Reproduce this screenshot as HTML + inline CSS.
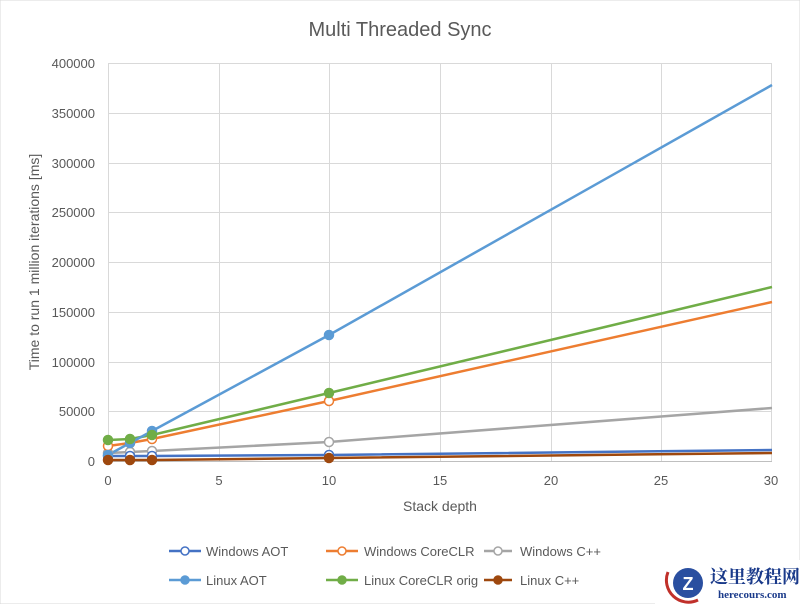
<!DOCTYPE html>
<html><head><meta charset="utf-8"><style>body{margin:0;background:#fff}svg{display:block}text{font-family:"Liberation Sans",sans-serif;fill:#595959}</style></head><body>
<svg width="800" height="604" viewBox="0 0 800 604">
<rect x="0" y="0" width="800" height="604" fill="#fff" stroke="#d9d9d9"/>
<text x="400" y="36" font-size="20" text-anchor="middle">Multi Threaded Sync</text>
<g stroke="#d9d9d9" stroke-width="1">
<line x1="108" y1="63.5" x2="772" y2="63.5"/><line x1="108" y1="113.5" x2="772" y2="113.5"/><line x1="108" y1="163.5" x2="772" y2="163.5"/><line x1="108" y1="212.5" x2="772" y2="212.5"/><line x1="108" y1="262.5" x2="772" y2="262.5"/><line x1="108" y1="312.5" x2="772" y2="312.5"/><line x1="108" y1="362.5" x2="772" y2="362.5"/><line x1="108" y1="411.5" x2="772" y2="411.5"/>
<line x1="108.5" y1="63" x2="108.5" y2="461"/><line x1="219.5" y1="63" x2="219.5" y2="461"/><line x1="329.5" y1="63" x2="329.5" y2="461"/><line x1="440.5" y1="63" x2="440.5" y2="461"/><line x1="551.5" y1="63" x2="551.5" y2="461"/><line x1="661.5" y1="63" x2="661.5" y2="461"/><line x1="771.5" y1="63" x2="771.5" y2="461"/>
</g>
<line x1="108" y1="461.5" x2="772" y2="461.5" stroke="#bfbfbf"/>
<g font-size="13" text-anchor="end">
<text x="95" y="68">400000</text><text x="95" y="118">350000</text><text x="95" y="168">300000</text><text x="95" y="217">250000</text><text x="95" y="267">200000</text><text x="95" y="317">150000</text><text x="95" y="367">100000</text><text x="95" y="416">50000</text><text x="95" y="466">0</text>
</g>
<g font-size="13" text-anchor="middle">
<text x="108" y="485">0</text><text x="219" y="485">5</text><text x="329" y="485">10</text><text x="440" y="485">15</text><text x="551" y="485">20</text><text x="661" y="485">25</text><text x="771" y="485">30</text>
</g>
<text x="440" y="511" font-size="14" text-anchor="middle">Stack depth</text>
<text transform="translate(39,262) rotate(-90)" font-size="14" text-anchor="middle">Time to run 1 million iterations [ms]</text>
<g fill="none" stroke-width="2.5" stroke-linejoin="round">
<polyline stroke="#A5A5A5" points="108,453 130,452 152,451 329,442 772,408"/>
<polyline stroke="#ED7D31" points="108,446 130,443 152,439 329,401 772,302"/>
<polyline stroke="#70AD47" points="108,440 130,439 152,435 329,393 772,287"/>
<polyline stroke="#5B9BD5" points="108,455 130,443 152,431 329,335 772,85"/>
<polyline stroke="#4472C4" points="108,456 130,456 152,456 329,455 772,450"/>
<polyline stroke="#9E480E" points="108,460 130,460 152,460 329,458 772,453"/>
</g>
<g stroke-width="1.5" fill="#fff">
<g stroke="#A5A5A5"><circle cx="108" cy="453" r="4.5"/><circle cx="130" cy="452" r="4.5"/><circle cx="152" cy="451" r="4.5"/><circle cx="329" cy="442" r="4.5"/></g>
<g stroke="#ED7D31"><circle cx="108" cy="446" r="4.5"/><circle cx="130" cy="443" r="4.5"/><circle cx="152" cy="439" r="4.5"/><circle cx="329" cy="401" r="4.5"/></g>
<g stroke="#4472C4"><circle cx="108" cy="456" r="4.5"/><circle cx="130" cy="456" r="4.5"/><circle cx="152" cy="456" r="4.5"/><circle cx="329" cy="455" r="4.5"/></g>
<g stroke="#5B9BD5" fill="#5B9BD5"><circle cx="108" cy="455" r="4.5"/><circle cx="130" cy="443" r="4.5"/><circle cx="152" cy="431" r="4.5"/><circle cx="329" cy="335" r="4.5"/></g>
<g stroke="#70AD47" fill="#70AD47"><circle cx="108" cy="440" r="4.5"/><circle cx="130" cy="439" r="4.5"/><circle cx="152" cy="435" r="4.5"/><circle cx="329" cy="393" r="4.5"/></g>
<g stroke="#9E480E" fill="#9E480E"><circle cx="108" cy="460" r="4.5"/><circle cx="130" cy="460" r="4.5"/><circle cx="152" cy="460" r="4.5"/><circle cx="329" cy="458" r="4.5"/></g>
</g>
<g font-size="13" stroke-width="2.5">
<line x1="169" y1="551" x2="201" y2="551" stroke="#4472C4"/><circle cx="185" cy="551" r="4" fill="#fff" stroke="#4472C4" stroke-width="1.5"/><text x="206" y="556">Windows AOT</text>
<line x1="326" y1="551" x2="358" y2="551" stroke="#ED7D31"/><circle cx="342" cy="551" r="4" fill="#fff" stroke="#ED7D31" stroke-width="1.5"/><text x="364" y="556">Windows CoreCLR</text>
<line x1="484" y1="551" x2="512" y2="551" stroke="#A5A5A5"/><circle cx="498" cy="551" r="4" fill="#fff" stroke="#A5A5A5" stroke-width="1.5"/><text x="520" y="556">Windows C++</text>
<line x1="169" y1="580" x2="201" y2="580" stroke="#5B9BD5"/><circle cx="185" cy="580" r="4" fill="#5B9BD5" stroke="#5B9BD5" stroke-width="1.5"/><text x="206" y="585">Linux AOT</text>
<line x1="326" y1="580" x2="358" y2="580" stroke="#70AD47"/><circle cx="342" cy="580" r="4" fill="#70AD47" stroke="#70AD47" stroke-width="1.5"/><text x="364" y="585">Linux CoreCLR orig</text>
<line x1="484" y1="580" x2="512" y2="580" stroke="#9E480E"/><circle cx="498" cy="580" r="4" fill="#9E480E" stroke="#9E480E" stroke-width="1.5"/><text x="520" y="585">Linux C++</text>
</g>
<rect x="655" y="560" width="145" height="44" fill="#fff"/>
<circle cx="688" cy="583" r="15" fill="#2a4fa0"/><path d="M668,572 a22,22 0 0 0 30,28" fill="none" stroke="#c0302a" stroke-width="3"/>
<text x="688" y="590" font-size="18" font-weight="bold" text-anchor="middle" style="fill:#fff">Z</text>
<text x="710" y="583" font-size="18" font-weight="bold" style="fill:#1a3a8a;font-family:'Liberation Serif','Noto Serif CJK SC',serif">这里教程网</text>
<text x="718" y="598" font-size="11" font-weight="bold" style="fill:#1a3a8a;font-family:'Liberation Serif',serif">herecours.com</text>
</svg>
</body></html>
